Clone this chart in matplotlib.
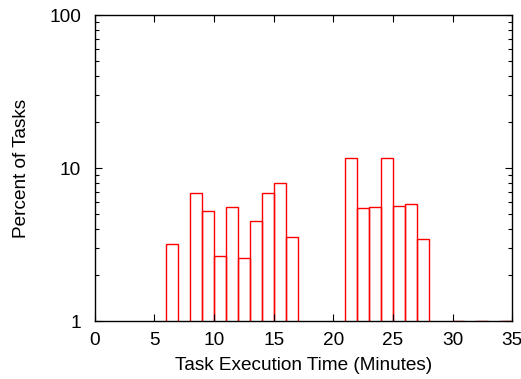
import numpy as np
import matplotlib
matplotlib.use("Agg")
import matplotlib.pyplot as plt
from matplotlib.ticker import LogLocator, NullFormatter, FixedLocator

# bin left edges (minutes) and percent of tasks
bin_left = [6, 8, 9, 10, 11, 12, 13, 14, 15, 16,
            21, 22, 23, 24, 25, 26, 27,
            30, 32, 34]
percent = [3.21, 6.85, 5.21, 2.65, 5.57, 2.59, 4.52, 6.9, 8.0, 3.55,
           11.7, 5.45, 5.57, 11.6, 5.65, 5.82, 3.42,
           1.0, 1.0, 1.0]

x_ticks = [0, 5, 10, 15, 20, 25, 30, 35]
y_ticks = [1, 10, 100]

plt.rcParams["font.family"] = ["Liberation Sans", "DejaVu Sans"]
plt.rcParams["font.size"] = 13.7

fig = plt.figure(figsize=(5.21, 3.79), dpi=100)
ax = fig.add_axes([0.182, 0.153, 0.801, 0.807])

ax.bar(bin_left, percent, width=1, align="edge", bottom=1e-3,
       fill=False, edgecolor="red", linewidth=1.0)

ax.set_yscale("log")
ax.set_xlim(0, 35)
ax.set_ylim(1, 100)
ax.xaxis.set_major_locator(FixedLocator(x_ticks))
ax.yaxis.set_major_locator(FixedLocator(y_ticks))
ax.set_yticklabels([str(v) for v in y_ticks])
ax.yaxis.set_minor_locator(LogLocator(base=10, subs=np.arange(2, 10)))
ax.yaxis.set_minor_formatter(NullFormatter())

ax.tick_params(which="both", direction="in", top=True, right=True, width=0.8)
ax.tick_params(which="major", length=5)
ax.tick_params(axis="y", which="major", pad=10)
ax.tick_params(axis="x", which="major", pad=8)
ax.tick_params(which="minor", length=3)
for s in ax.spines.values():
    s.set_linewidth(1.0)

ax.set_xlabel("Task Execution Time (Minutes)", labelpad=6)
ax.set_ylabel("Percent of Tasks", labelpad=14)

fig.savefig("out.png", dpi=100)
